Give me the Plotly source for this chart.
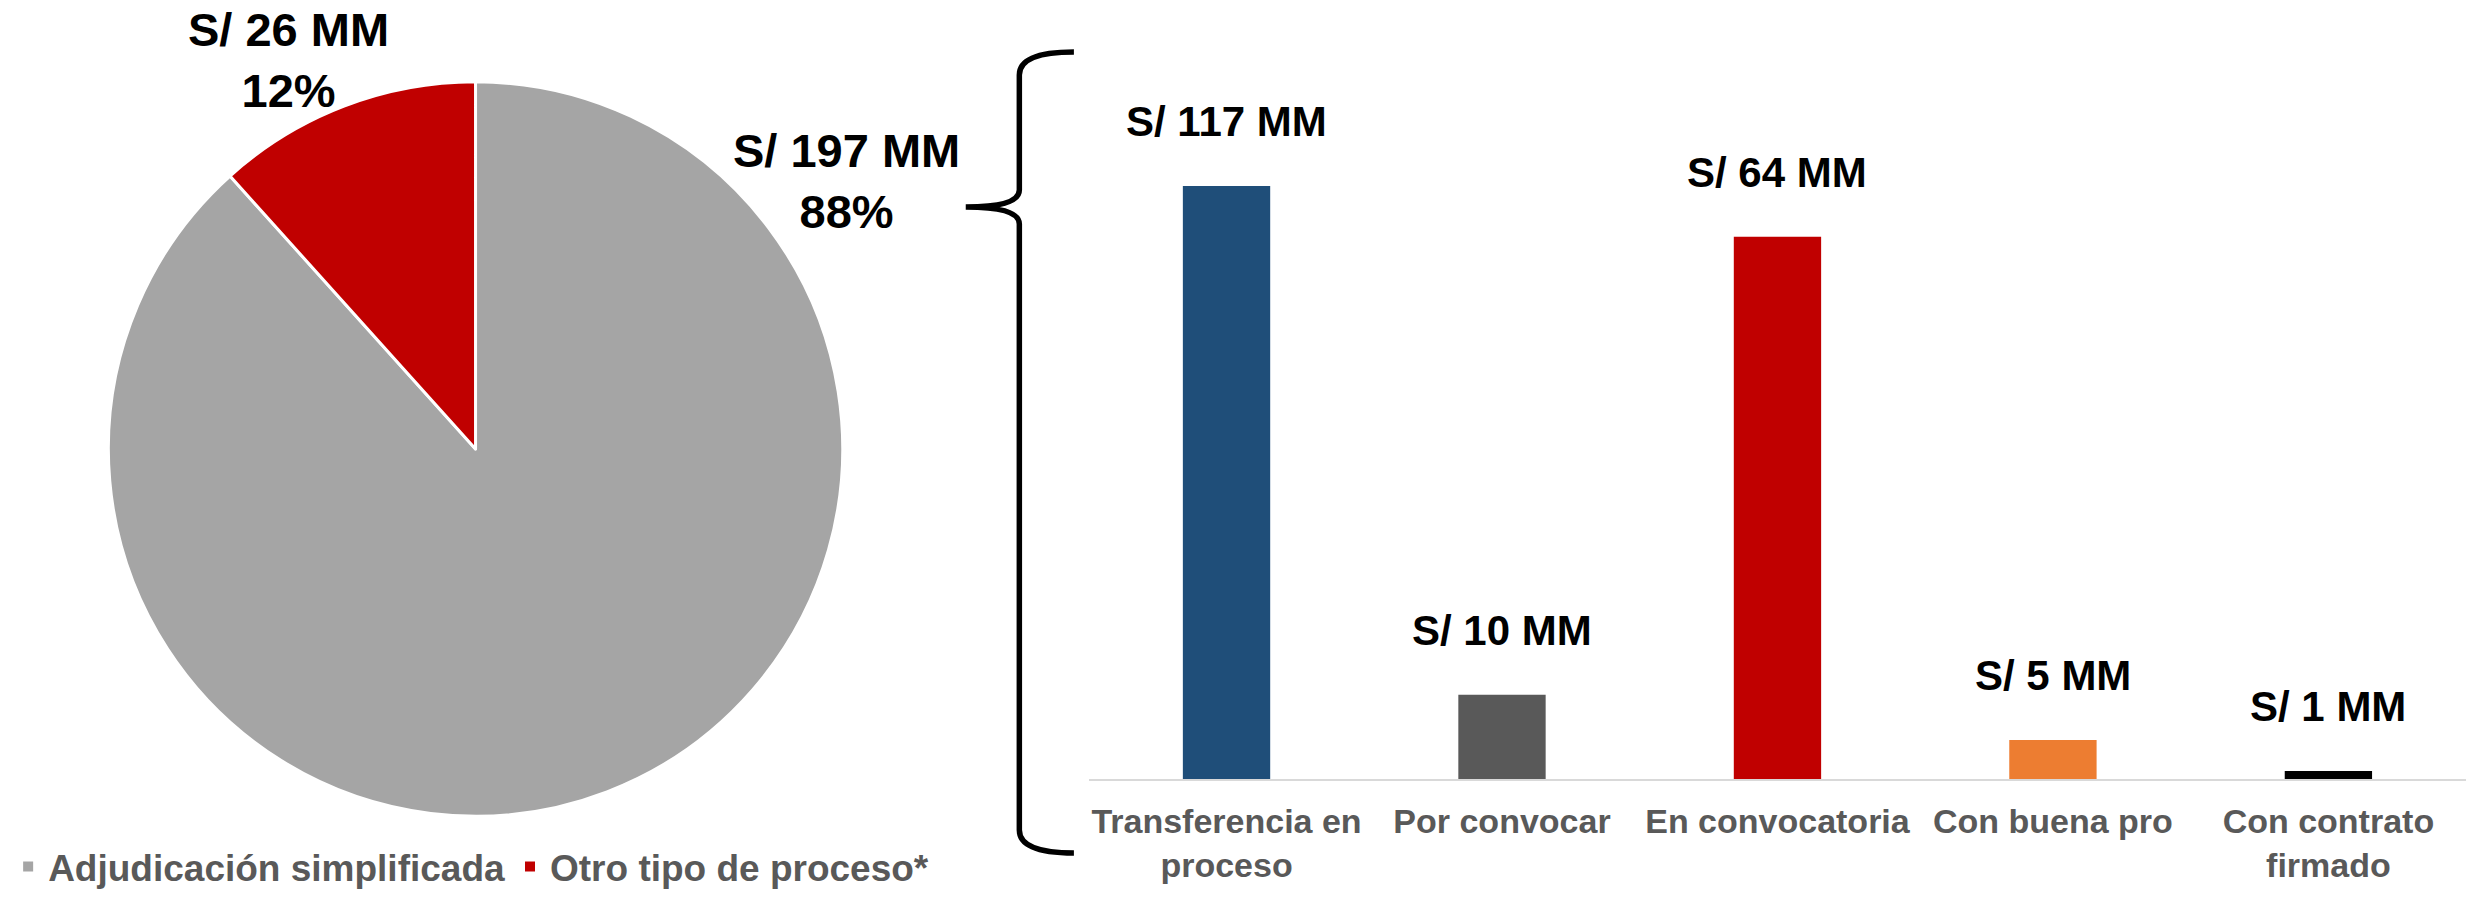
import plotly.graph_objects as go

# ---------------- data ----------------
pie_labels = ["Adjudicación simplificada", "Otro tipo de proceso*"]
pie_values = [197, 26]            # S/ MM
pie_colors = ["#A5A5A5", "#C00000"]

bar_categories = ["Transferencia en<br>proceso", "Por convocar", "En convocatoria",
                  "Con buena pro", "Con contrato<br>firmado"]
bar_amounts = [117, 10, 64, 5, 1]               # label values, S/ MM
bar_heights = [117, 16.6, 107, 7.7, 1.6]        # visual bar heights
bar_colors = ["#1F4E79", "#595959", "#C00000", "#ED7D31", "#000000"]

# ---------------- layout helpers ----------------
W, H = 2476, 898
OFF_X, OFF_Y = 12, 8  # page offset compensation
FONT = "Liberation Sans, Arial, sans-serif"


def px(x):
    return (x - OFF_X) / W


def py(y):
    return 1 - (y - OFF_Y) / H


total = sum(pie_values)

fig = go.Figure()

fig.add_trace(go.Pie(
    labels=pie_labels,
    values=pie_values,
    marker=dict(colors=pie_colors, line=dict(color="white", width=3)),
    sort=False,
    direction="clockwise",
    rotation=0,
    textinfo="none",
    hoverinfo="label+value+percent",
    domain=dict(x=[px(94), px(834)], y=[py(818), py(80)]),
    showlegend=True,
))

fig.add_trace(go.Bar(
    x=bar_categories,
    y=bar_heights,
    marker=dict(color=bar_colors, line=dict(width=0)),
    showlegend=False,
    hovertext=[f"S/ {a} MM" for a in bar_amounts],
    hoverinfo="x+text",
))

annotations = []
# pie labels
pie_label_pos = [(838, 181), (276, 60)]
for v, (lx, ly) in zip(pie_values, pie_label_pos):
    annotations.append(dict(
        x=px(lx), y=py(ly), xref="paper", yref="paper",
        xanchor="center", yanchor="middle", showarrow=False,
        text=f"S/ {v} MM<br>{round(100 * v / total)}%",
        font=dict(family=FONT, size=47, color="#000000", weight="bold"),
    ))

# bar labels
for c, h, a in zip(bar_categories, bar_heights, bar_amounts):
    annotations.append(dict(
        x=c, y=h, xref="x", yref="y",
        xanchor="center", yanchor="bottom", yshift=39, showarrow=False,
        text=f"S/ {a} MM",
        font=dict(family=FONT, size=42, color="#000000", weight="bold"),
    ))

# curly brace (pixel path -> paper)
pts = [
    ("M", [(1067, 52)]),
    ("Q", [(1012, 52), (1012, 75)]),
    ("L", [(1012, 190)]),
    ("Q", [(1012, 207), (958, 207)]),
    ("Q", [(1012, 207), (1012, 224)]),
    ("L", [(1012, 830)]),
    ("Q", [(1012, 853), (1067, 853)]),
]
path = ""
for cmd, coords in pts:
    path += cmd + " ".join(f"{px(x):.5f},{py(y):.5f}" for x, y in coords) + " "

axis_y = 779
bar_top_px = 186
top_px = OFF_Y
ymax = bar_heights[0] * (axis_y - top_px) / (axis_y - bar_top_px)

fig.update_layout(
    width=W, height=H, autosize=False,
    margin=dict(l=0, r=0, t=0, b=0),
    paper_bgcolor="white", plot_bgcolor="white",
    font=dict(family=FONT, color="#595959", weight="bold"),
    bargap=0.683,
    xaxis=dict(
        domain=[px(1082), px(2470)],
        showline=True, linecolor="#D9D9D9", linewidth=2,
        showgrid=False, zeroline=False, ticks="",
        tickfont=dict(family=FONT, size=34, color="#595959", weight="bold"),
        ticklabelstandoff=11,
        automargin=False, fixedrange=True,
    ),
    yaxis=dict(
        domain=[py(axis_y), 1],
        range=[0, ymax],
        visible=False, showgrid=False, zeroline=False, fixedrange=True,
    ),
    legend=dict(
        orientation="h", x=px(-7), y=py(898), xanchor="left", yanchor="bottom",
        font=dict(family=FONT, size=37, color="#595959", weight="bold"),
        bgcolor="rgba(0,0,0,0)", itemsizing="constant",
    ),
    annotations=annotations,
    shapes=[dict(type="path", path=path.strip(), xref="paper", yref="paper",
                 line=dict(color="black", width=5.5))],
)

fig.write_html("out.html")
